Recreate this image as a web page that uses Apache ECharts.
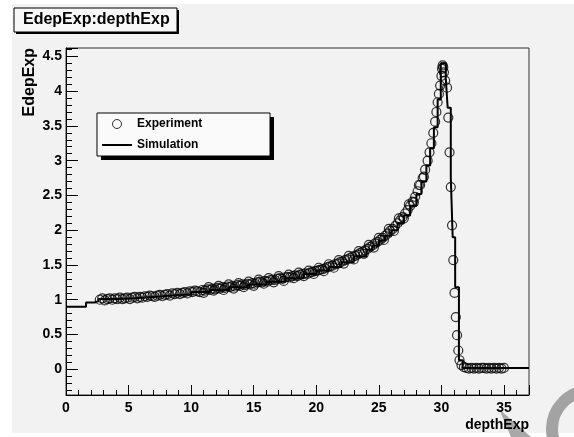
<!DOCTYPE html>
<html>
<head>
<meta charset="utf-8">
<script src="https://cdn.jsdelivr.net/npm/echarts@6/dist/echarts.min.js"></script>
<style>
html, body { margin: 0; padding: 0; background: #ffffff; }
#main { width: 574px; height: 437px; }
</style>
</head>
<body>
<div id="main"></div>
<script>
// 实验数据 depthExp / EdepExp
var expX = [2.7, 2.9, 3.1, 3.3, 3.5, 3.7, 3.9, 4.1, 4.3, 4.5, 4.7, 4.9, 5.1, 5.3, 5.5, 5.7, 5.9, 6.1, 6.3, 6.5,
	6.7, 6.9, 7.1, 7.3, 7.5, 7.7, 7.9, 8.1, 8.3, 8.5, 8.7, 8.9, 9.1, 9.3, 9.5, 9.7, 9.9, 10.1, 10.3, 10.5,
	10.7, 10.9, 11.1, 11.3, 11.5, 11.7, 11.9, 12.1, 12.3, 12.5, 12.7, 12.9, 13.1, 13.3, 13.5, 13.7, 13.9, 14.1, 14.3, 14.5,
	14.7, 14.9, 15.1, 15.3, 15.5, 15.7, 15.9, 16.1, 16.3, 16.5, 16.7, 16.9, 17.1, 17.3, 17.5, 17.7, 17.9, 18.1, 18.3, 18.5,
	18.7, 18.9, 19.1, 19.3, 19.5, 19.7, 19.9, 20.1, 20.3, 20.5, 20.7, 20.9, 21.1, 21.3, 21.5, 21.7, 21.9, 22.1, 22.3, 22.5,
	22.7, 22.9, 23.1, 23.3, 23.5, 23.7, 23.9, 24.1, 24.3, 24.5, 24.7, 24.9, 25.1, 25.3, 25.5, 25.7, 25.9, 26.1, 26.3, 26.5,
	26.7, 26.9, 27.1, 27.3, 27.5, 27.7, 27.9, 28.1, 28.3, 28.5, 28.7, 28.9, 29.05, 29.2, 29.35, 29.5, 29.6, 29.7, 29.8, 29.9,
	30.0, 30.05, 30.1, 30.15, 30.2, 30.3, 30.45, 30.55, 30.65, 30.75, 30.85, 30.95, 31.05, 31.15, 31.25, 31.35, 31.45, 31.6, 31.8,
	32.0, 32.2, 32.4, 32.6, 32.8, 33.0, 33.2, 33.4, 33.6, 33.8, 34.0, 34.2, 34.4, 34.6, 34.8, 35.0];
var expY = [1.00, 1.02, 0.99, 1.01, 1.02, 1.00, 1.02, 1.01, 1.03, 1.01, 1.02, 1.03, 1.01, 1.03, 1.04, 1.02, 1.04, 1.03, 1.05, 1.04,
	1.06, 1.05, 1.04, 1.06, 1.07, 1.05, 1.07, 1.08, 1.06, 1.09, 1.08, 1.10, 1.08, 1.10, 1.11, 1.09, 1.12, 1.11, 1.13, 1.12,
	1.11, 1.14, 1.13, 1.15, 1.14, 1.16, 1.15, 1.17, 1.16, 1.18, 1.17, 1.19, 1.18, 1.20, 1.19, 1.21, 1.20, 1.22, 1.21, 1.23,
	1.22, 1.24, 1.23, 1.25, 1.26, 1.25, 1.27, 1.26, 1.28, 1.29, 1.28, 1.30, 1.31, 1.30, 1.32, 1.33, 1.32, 1.34, 1.35, 1.34,
	1.36, 1.37, 1.38, 1.37, 1.39, 1.40, 1.41, 1.42, 1.43, 1.44, 1.45, 1.47, 1.48, 1.49, 1.51, 1.52, 1.54, 1.55, 1.57, 1.58,
	1.60, 1.62, 1.63, 1.65, 1.67, 1.69, 1.71, 1.73, 1.76, 1.78, 1.81, 1.83, 1.86, 1.89, 1.92, 1.95, 1.99, 2.02, 2.06, 2.10,
	2.14, 2.19, 2.24, 2.29, 2.35, 2.41, 2.48, 2.56, 2.65, 2.75, 2.87, 3.00, 3.12, 3.25, 3.40, 3.56, 3.70, 3.84, 3.96, 4.08,
	4.22, 4.32, 4.37, 4.34, 4.27, 4.15, 4.05, 3.62, 3.12, 2.62, 2.07, 1.57, 1.10, 0.75, 0.49, 0.27, 0.13, 0.06, 0.03,
	0.02, 0.01, 0.02, 0.01, 0.02, 0.01, 0.02, 0.02, 0.01, 0.02, 0.01, 0.02, 0.01, 0.02, 0.01, 0.02];
// 散布较大的点 (带子中间段)
var expXb = [11.0, 11.4, 11.8, 12.2, 12.6, 13.0, 13.4, 13.8, 14.2, 14.6, 15.0, 15.4, 15.8, 16.2, 16.6, 17.0, 17.4, 17.8, 18.2, 18.6,
	19.0, 19.4, 19.8, 20.2, 20.6, 21.0, 21.4, 21.8, 22.2, 22.6, 23.0, 23.4, 23.8, 24.2, 24.6, 25.0, 25.4, 25.8, 26.2, 26.6,
	27.0, 27.4, 27.8, 28.2, 28.6];
var expYb = [1.10, 1.18, 1.13, 1.20, 1.14, 1.22, 1.16, 1.24, 1.18, 1.26, 1.20, 1.29, 1.23, 1.31, 1.25, 1.34, 1.27, 1.36, 1.31, 1.39,
	1.34, 1.42, 1.37, 1.46, 1.41, 1.51, 1.46, 1.57, 1.52, 1.63, 1.58, 1.70, 1.66, 1.79, 1.75, 1.89, 1.86, 2.02, 1.99, 2.17,
	2.17, 2.37, 2.40, 2.65, 2.77];

// 模拟直方图 (bin 起点, 值)
var simX = [0, 1.6, 2.3, 2.6, 4.0, 5.5, 7.0, 8.5, 10, 11.5, 13, 14.5, 16, 17.5, 19, 20, 21, 22, 23, 24,
	24.5, 25, 25.5, 26, 26.5, 27, 27.5, 28, 28.4, 28.8, 29.1, 29.4, 29.7, 29.95, 30.35, 30.5, 30.75, 30.9, 31.1, 31.4,
	31.7, 37];
var simY = [0.90, 0.96, 0.98, 1.01, 1.02, 1.04, 1.06, 1.08, 1.11, 1.14, 1.18, 1.22, 1.26, 1.31, 1.37, 1.42, 1.47, 1.54, 1.62, 1.72,
	1.78, 1.85, 1.92, 2.00, 2.10, 2.21, 2.35, 2.52, 2.70, 2.93, 3.18, 3.48, 3.88, 4.40, 4.18, 3.76, 2.76, 1.90, 1.18, 0.13,
	0.02, 0.02];

var font = "'Liberation Sans', Arial, sans-serif";

function pairs(xs, ys) {
	var out = [];
	for (var i = 0; i < xs.length; i++) {
		out.push([xs[i], ys[i]]);
	}
	return out;
}

var myChart = echarts.init(document.getElementById("main"), null, { renderer: 'canvas' });
myChart.setOption({
	backgroundColor : '#ffffff',
	animation : false,
	graphic : [
		// 画布灰底
		{ type : 'rect', z : -10, shape : { x : 12, y : 4, width : 562, height : 429 }, style : { fill : '#f2f2f2' } },
		// 水印
		{ type : 'circle', z : -9, shape : { cx : 590, cy : 429, r : 38 }, style : { fill : 'none', stroke : '#a3a3a3', lineWidth : 12 } },
		{ type : 'polygon', z : -9, shape : { points : [[499, 409], [511, 437], [531, 437]] }, style : { fill : '#a8a8a8' } },
		// 标题框
		{ type : 'rect', z : 10, shape : { x : 16, y : 10, width : 163, height : 24 }, style : { fill : '#000' } },
		{ type : 'rect', z : 11, shape : { x : 14, y : 8, width : 163, height : 24 }, style : { fill : '#f7f7f7', stroke : '#000', lineWidth : 1 } },
		{ type : 'text', z : 12, x : 23, y : 20, style : { text : 'EdepExp:depthExp', font : 'bold 16px ' + font, fill : '#000', verticalAlign : 'middle' } },
		// 图例框
		{ type : 'rect', z : 10, shape : { x : 101, y : 117, width : 173, height : 43 }, style : { fill : '#000' } },
		{ type : 'rect', z : 11, shape : { x : 97, y : 113, width : 173, height : 43 }, style : { fill : '#fafafa', stroke : '#000', lineWidth : 1 } },
		// 轴标题
		{ type : 'text', z : 12, x : 30, y : 48, rotation : Math.PI / 2, style : { text : 'EdepExp', font : 'bold 16px ' + font, fill : '#000', align : 'right', verticalAlign : 'middle' } },
		{ type : 'text', z : 12, x : 529, y : 425, style : { text : 'depthExp', font : 'bold 14px ' + font, fill : '#000', align : 'right', verticalAlign : 'middle' } }
	],
	legend : {
		z : 20,
		orient : 'vertical',
		left : 102,
		top : 117,
		padding : 0,
		itemWidth : 30,
		itemHeight : 9,
		itemGap : 7,
		symbolKeepAspect : true,
		textStyle : { fontFamily : font, fontWeight : 'bold', fontSize : 12, color : '#000', lineHeight : 14 },
		data : [
			{ name : 'Experiment', icon : 'circle', itemStyle : { color : 'rgba(0,0,0,0)', borderColor : '#000', borderWidth : 1 } },
			{ name : 'Simulation', icon : 'path://M0,0 L30,0 L30,2 L0,2 Z', itemStyle : { color : '#000' } }
		]
	},
	grid : {
		left : 66,
		right : 45,
		top : 48,
		bottom : 42,
		show : true,
		backgroundColor : 'rgba(0,0,0,0)',
		borderColor : '#333',
		borderWidth : 1
	},
	xAxis : {
		type : 'value',
		min : 0,
		max : 37,
		interval : 5,
		axisLine : { onZero : false, lineStyle : { color : '#000', width : 1 } },
		axisTick : { inside : true, length : 10, lineStyle : { color : '#000' } },
		minorTick : { show : true, splitNumber : 5, length : 5, lineStyle : { color : '#000' } },
		splitLine : { show : false },
		axisLabel : { margin : 6, showMaxLabel : false, fontFamily : font, fontWeight : 'bold', fontSize : 14, color : '#000' }
	},
	yAxis : {
		type : 'value',
		min : -0.37,
		max : 4.62,
		splitNumber : 10,
		axisLine : { show : true, onZero : false, lineStyle : { color : '#000', width : 1 } },
		axisTick : { show : true, inside : true, length : 12, lineStyle : { color : '#000' } },
		minorTick : { show : true, splitNumber : 5, length : 6, lineStyle : { color : '#000' } },
		splitLine : { show : false },
		axisLabel : { margin : 4, showMinLabel : false, showMaxLabel : false, fontFamily : font, fontWeight : 'bold', fontSize : 14, color : '#000' }
	},
	series : [ {
		name : 'Experiment',
		type : 'scatter',
		symbol : 'circle',
		symbolSize : 9,
		itemStyle : { color : 'rgba(0,0,0,0)', borderColor : '#000', borderWidth : 1.2 },
		data : pairs(expX, expY).concat(pairs(expXb, expYb)),
		z : 3
	}, {
		name : 'Simulation',
		type : 'line',
		step : 'end',
		symbol : 'none',
		lineStyle : { color : '#000', width : 2 },
		itemStyle : { color : '#000' },
		data : pairs(simX, simY),
		z : 4
	} ]
});
</script>
</body>
</html>
